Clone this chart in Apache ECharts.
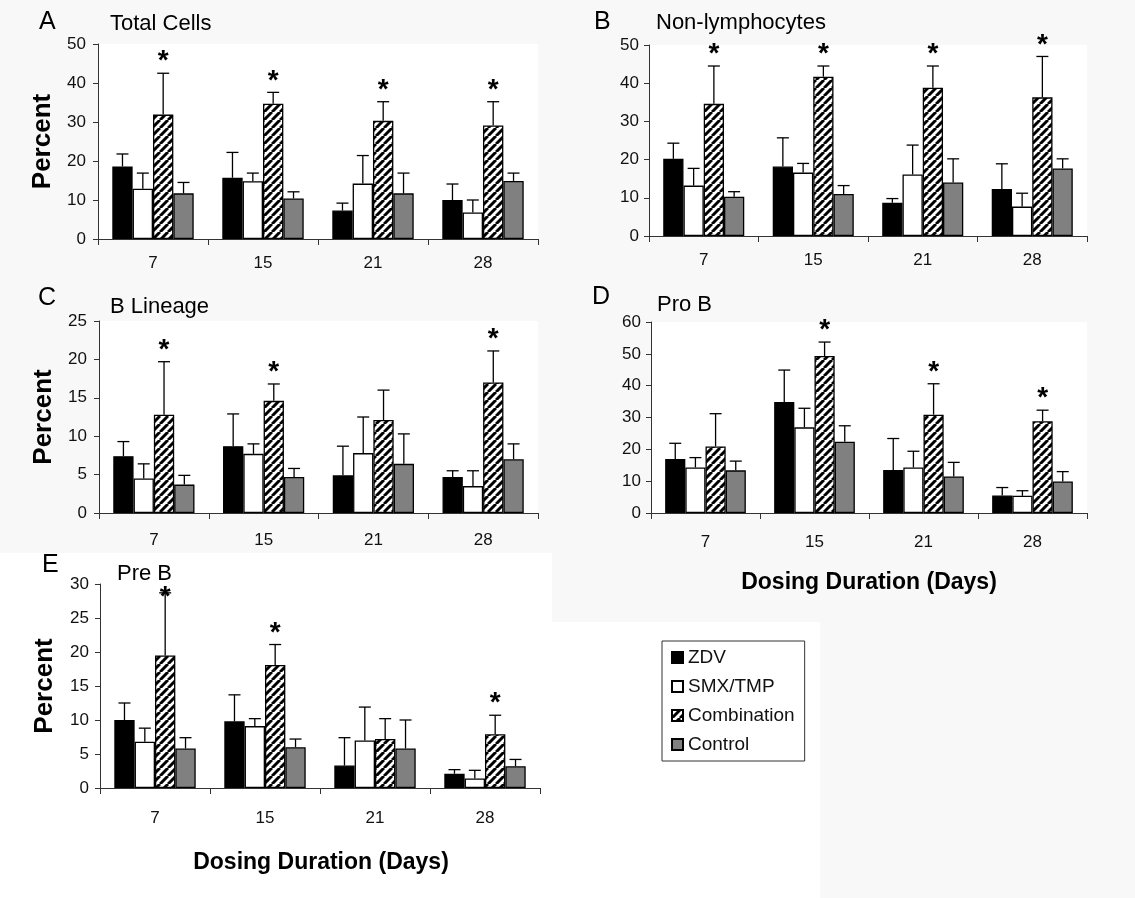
<!DOCTYPE html>
<html>
<head>
<meta charset="utf-8">
<title>Bone marrow cell populations by dosing duration</title>
<script src="https://cdn.jsdelivr.net/npm/echarts/dist/echarts.min.js"></script>
<style>
  html, body { margin: 0; padding: 0; background: #f8f8f8; }
  #chart { width: 1135px; height: 898px; }
</style>
</head>
<body>
<div id="chart"></div>
<script>
// ---- data -----------------------------------------------------------------
const days = ['7', '15', '21', '28'];
const groups = ['ZDV', 'SMX/TMP', 'Combination', 'Control'];

// Each mean/sd array is ordered ZDV, SMX/TMP, Combination, Control; inner values by day.
// Stars flag a significant Combination result per day.
const totalCellsMean = [[18.6, 15.7, 7.3, 10.0], [12.9, 14.8, 14.2, 6.8], [31.9, 34.7, 30.3, 29.1], [11.7, 10.4, 11.7, 14.9]];
const totalCellsSd   = [[3.2, 6.5, 1.9, 4.1], [4.0, 2.1, 7.2, 3.2], [10.6, 2.9, 4.9, 6.1], [2.8, 1.7, 5.2, 2.0]];
const totalCellsStar = [1, 1, 1, 1];

const nonLymphMean = [[20.2, 18.2, 8.7, 12.3], [13.2, 16.6, 16.1, 7.7], [34.6, 41.7, 38.8, 36.3], [10.3, 11.0, 14.0, 17.7]];
const nonLymphSd   = [[4.1, 7.5, 1.1, 6.6], [4.5, 2.4, 7.7, 3.5], [9.9, 2.8, 5.7, 10.7], [1.3, 2.2, 6.2, 2.5]];
const nonLymphStar = [1, 1, 1, 1];

const bLineageMean = [[7.4, 8.7, 4.9, 4.7], [4.5, 7.7, 7.8, 3.5], [12.8, 14.6, 12.1, 17.0], [3.7, 4.7, 6.4, 7.0]];
const bLineageSd   = [[1.9, 4.2, 3.8, 0.8], [1.9, 1.3, 4.7, 2.0], [6.9, 2.2, 3.9, 4.1], [1.2, 1.1, 3.9, 2.0]];
const bLineageStar = [1, 1, 0, 1];

const proBMean = [[17.0, 34.9, 13.5, 5.5], [14.3, 26.9, 14.3, 5.4], [20.9, 49.3, 30.9, 28.8], [13.4, 22.4, 11.5, 9.9]];
const proBSd   = [[4.9, 10.0, 9.9, 2.5], [3.1, 6.0, 5.1, 1.6], [10.3, 4.4, 9.7, 3.5], [2.9, 5.0, 4.4, 3.1]];
const proBStar = [0, 1, 1, 1];

const preBMean = [[10.0, 9.8, 3.3, 2.1], [6.8, 9.1, 7.0, 1.4], [19.5, 18.1, 7.2, 7.9], [5.8, 6.0, 5.8, 3.2]];
const preBSd   = [[2.5, 3.9, 4.1, 0.6], [2.0, 1.1, 4.9, 1.2], [9.2, 3.0, 3.0, 2.8], [1.6, 1.2, 4.2, 1.0]];
const preBStar = [1, 1, 0, 1];

// ---- layout ---------------------------------------------------------------
const FONT = '"Liberation Sans", Arial, Helvetica, sans-serif';
const GAP = 0.26; // category gap ratio shared by bars and error bars

const panels = [
  { letter: 'A', title: 'Total Cells',     mean: totalCellsMean, sd: totalCellsSd, star: totalCellsStar,
    max: 50, step: 10, grid: { left: 98,  top: 44,  width: 440, height: 195 }, yName: true,  xMargin: 16, yMargin: 12,
    letterPos: [39, 22],  titlePos: [110, 24] },
  { letter: 'B', title: 'Non-lymphocytes', mean: nonLymphMean, sd: nonLymphSd, star: nonLymphStar,
    max: 50, step: 10, grid: { left: 649, top: 45,  width: 438, height: 191 }, yName: false, xMargin: 16, yMargin: 10,
    letterPos: [594, 22], titlePos: [656, 23] },
  { letter: 'C', title: 'B Lineage',       mean: bLineageMean, sd: bLineageSd, star: bLineageStar,
    max: 25, step: 5,  grid: { left: 99,  top: 321, width: 439, height: 192 }, yName: true,  xMargin: 19, yMargin: 12,
    letterPos: [38, 298], titlePos: [110, 307] },
  { letter: 'D', title: 'Pro B',           mean: proBMean, sd: proBSd, star: proBStar,
    max: 60, step: 10, grid: { left: 651, top: 322, width: 436, height: 191 }, yName: false, xMargin: 21, yMargin: 10,
    letterPos: [592, 297], titlePos: [657, 305] },
  { letter: 'E', title: 'Pre B',           mean: preBMean, sd: preBSd, star: preBStar,
    max: 30, step: 5,  grid: { left: 100, top: 584, width: 440, height: 204 }, yName: true,  xMargin: 22, yMargin: 11,
    letterPos: [42, 565], titlePos: [117, 574], starFloor: 6 }
];

// diagonal hatch tile for the Combination bars
function hatchTile() {
  const s = 8;
  const c = document.createElement('canvas');
  c.width = c.height = s;
  const g = c.getContext('2d');
  g.fillStyle = '#ffffff';
  g.fillRect(0, 0, s, s);
  g.strokeStyle = '#000000';
  g.lineWidth = 3;
  g.beginPath();
  for (const o of [-s, 0, s]) { g.moveTo(o, s); g.lineTo(o + s, 0); }
  g.stroke();
  return c;
}
const fills = ['#000000', '#ffffff', { image: hatchTile(), repeat: 'repeat' }, '#808080'];

// ---- option -----------------------------------------------------------------
const grids = [], xAxes = [], yAxes = [], series = [];

panels.forEach((p, pi) => {
  grids.push(Object.assign({ show: true, backgroundColor: '#ffffff', borderWidth: 0 }, p.grid));

  xAxes.push({
    type: 'category', gridIndex: pi, data: days,
    axisLine: { lineStyle: { color: '#333', width: 1 } },
    axisTick: { show: true, alignWithLabel: false, length: 6, lineStyle: { color: '#333' } },
    axisLabel: { fontFamily: FONT, fontSize: 17, color: '#111', margin: p.xMargin }
  });

  yAxes.push({
    type: 'value', gridIndex: pi, min: 0, max: p.max, interval: p.step,
    name: p.yName ? 'Percent' : '', nameLocation: 'middle', nameRotate: 90, nameGap: 42,
    nameTextStyle: { fontFamily: FONT, fontSize: 26, fontWeight: 'bold', color: '#000' },
    splitLine: { show: false },
    axisLine: { show: true, lineStyle: { color: '#333', width: 1 } },
    axisTick: { show: true, length: 5, lineStyle: { color: '#333' } },
    axisLabel: { fontFamily: FONT, fontSize: 17, color: '#111', margin: p.yMargin }
  });

  groups.forEach((name, gi) => {
    series.push({
      type: 'bar', name, xAxisIndex: pi, yAxisIndex: pi,
      data: p.mean[gi],
      barGap: '0%', barCategoryGap: (GAP * 100) + '%',
      itemStyle: { color: fills[gi], borderColor: '#000', borderWidth: 1.3 },
      silent: true
    });
  });

  // error bars (upper SD) and significance asterisks
  const items = [];
  groups.forEach((name, gi) => {
    days.forEach((d, di) => {
      const m = p.mean[gi][di];
      const flag = gi === 2 ? p.star[di] : 0;
      items.push([di, gi, m, +(m + p.sd[gi][di]).toFixed(2), flag]);
    });
  });
  const floor = p.starFloor;
  series.push({
    type: 'custom', xAxisIndex: pi, yAxisIndex: pi, data: items, z: 5, silent: true,
    encode: { x: 0, y: [2, 3] },
    renderItem(params, api) {
      const cat = api.value(0), gi = api.value(1), m = api.value(2), top = api.value(3), flag = api.value(4);
      const band = api.size([1, 0])[0];
      const bw = band * (1 - GAP) / 4;
      const base = api.coord([cat, m]);
      const x = base[0] + (gi - 1.5) * bw;
      const yTop = api.coord([cat, top])[1];
      const stroke = { stroke: '#000', lineWidth: 1.3 };
      const children = [
        { type: 'line', shape: { x1: x, y1: base[1], x2: x, y2: yTop }, style: stroke },
        { type: 'line', shape: { x1: x - 6, y1: yTop, x2: x + 6, y2: yTop }, style: stroke }
      ];
      if (flag) {
        let cy = yTop - 19;
        if (floor !== undefined) cy = Math.max(cy, params.coordSys.y + floor);
        children.push({
          type: 'text',
          style: { text: '*', x: x, y: cy + 7.5, align: 'center', verticalAlign: 'middle',
                   font: 'bold 28px ' + FONT, fill: '#000' }
        });
      }
      return { type: 'group', children };
    }
  });
});

// panel letters, titles, shared axis titles and white backing areas
const graphics = [
  { type: 'rect', shape: { x: 0, y: 553, width: 552, height: 345 }, style: { fill: '#ffffff' }, z: -10 },
  { type: 'rect', shape: { x: 552, y: 622, width: 268, height: 276 }, style: { fill: '#ffffff' }, z: -10 }
];
panels.forEach(p => {
  graphics.push({ type: 'text', x: p.letterPos[0], y: p.letterPos[1],
    style: { text: p.letter, font: '25px ' + FONT, fill: '#000', align: 'left', verticalAlign: 'middle' } });
  graphics.push({ type: 'text', x: p.titlePos[0], y: p.titlePos[1],
    style: { text: p.title, font: '22px ' + FONT, fill: '#000', align: 'left', verticalAlign: 'middle' } });
});
[[869, 583], [321, 863]].forEach(pos => {
  graphics.push({ type: 'text', x: pos[0], y: pos[1],
    style: { text: 'Dosing Duration (Days)', font: 'bold 23px ' + FONT, fill: '#000',
             align: 'center', verticalAlign: 'middle' } });
});

const chart = echarts.init(document.getElementById('chart'), null, { renderer: 'canvas' });
chart.setOption({
  backgroundColor: '#f8f8f8',
  animation: false,
  grid: grids,
  xAxis: xAxes,
  yAxis: yAxes,
  series,
  legend: {
    data: groups, orient: 'vertical', left: 662, top: 641,
    padding: [7, 10, 7, 9], itemGap: 10, itemWidth: 11, itemHeight: 11,
    icon: 'rect', borderColor: '#333', borderWidth: 1, backgroundColor: '#ffffff',
    selectedMode: false,
    textStyle: { fontFamily: FONT, fontSize: 19, color: '#111' }
  },
  graphic: graphics
});
</script>
</body>
</html>
